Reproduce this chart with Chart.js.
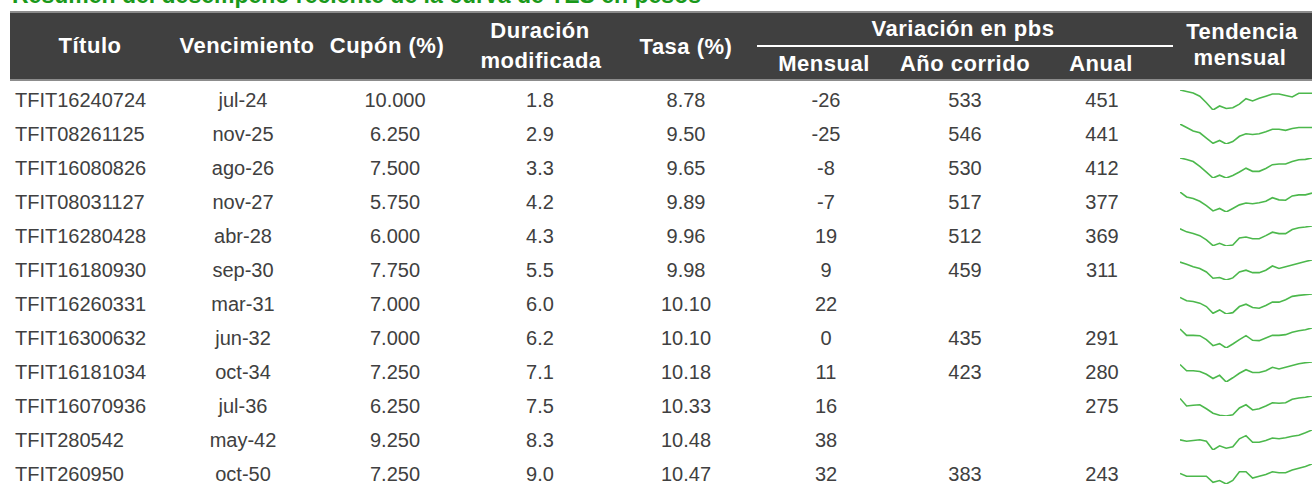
<!DOCTYPE html>
<html>
<head>
<meta charset="utf-8">
<script src="https://cdn.jsdelivr.net/npm/chart.js@4.4.1/dist/chart.umd.min.js"></script>
<style>
  body { margin: 0; width: 1312px; height: 487px; overflow: hidden; background: #fff; position: relative; font-family: "Liberation Sans", Arial, sans-serif; }
  .titulo { position: absolute; left: 12px; top: -18px; font-weight: bold; font-size: 23px; color: #1a991a; white-space: nowrap; }
  .head { position: absolute; left: 10px; top: 11px; width: 1302px; height: 66px; background: #404040; border-top: 2px solid #8c8c8c; border-bottom: 2px solid #8c8c8c; }
  .linea { position: absolute; left: 757px; top: 45px; width: 416px; height: 2px; background: #fff; }
  .h { position: absolute; color: #fff; font-weight: bold; font-size: 22px; transform: translate(-50%, -50%); white-space: nowrap; letter-spacing: 0.5px; }
  .c { position: absolute; color: #404040; font-size: 20px; transform: translate(-50%, -50%); white-space: nowrap; }
  .c.izq { transform: translate(0, -50%); }
  canvas.spark { position: absolute; left: 1180px; }
</style>
</head>
<body>
<div class="titulo">Resumen del desempeño reciente de la curva de TES en pesos</div>
<div class="head"></div>
<div class="linea"></div>
<div id="tabla"></div>
<script>
const titulos = ["TFIT16240724", "TFIT08261125", "TFIT16080826", "TFIT08031127", "TFIT16280428", "TFIT16180930",
  "TFIT16260331", "TFIT16300632", "TFIT16181034", "TFIT16070936", "TFIT280542", "TFIT260950"];
const vencimientos = ["jul-24", "nov-25", "ago-26", "nov-27", "abr-28", "sep-30", "mar-31", "jun-32", "oct-34", "jul-36", "may-42", "oct-50"];
const cupon = ["10.000", "6.250", "7.500", "5.750", "6.000", "7.750", "7.000", "7.000", "7.250", "6.250", "9.250", "7.250"];
const duracion = ["1.8", "2.9", "3.3", "4.2", "4.3", "5.5", "6.0", "6.2", "7.1", "7.5", "8.3", "9.0"];
const tasa = ["8.78", "9.50", "9.65", "9.89", "9.96", "9.98", "10.10", "10.10", "10.18", "10.33", "10.48", "10.47"];
const varMensual = [-26, -25, -8, -7, 19, 9, 22, 0, 11, 16, 38, 32];
const varAnoCorrido = [533, 546, 530, 517, 512, 459, null, 435, 423, null, null, 383];
const varAnual = [451, 441, 412, 377, 369, 311, null, 291, 280, 275, null, 243];

// puntos de la tendencia (nivel relativo de la tasa)
const dias = ["1", "2", "3", "4", "5", "6", "7", "8", "9", "10", "11", "12", "13", "14", "15", "16", "17", "18", "19", "20", "21"];
const tendencia = [
  [55, 51, 47, 38, 20, 0, 11, 4, 6, 16, 31, 25, 32, 38, 44, 44, 40, 36, 46, 46, 46],
  [57, 47, 37, 32, 17, 2, 10, 0, 7, 22, 29, 27, 29, 35, 42, 42, 39, 44, 47, 47, 47],
  [57, 53, 47, 33, 17, 0, 8, 0, 7, 17, 28, 19, 19, 27, 38, 40, 40, 47, 52, 53, 57],
  [56, 42, 38, 30, 18, 3, 10, 0, 10, 20, 25, 23, 26, 30, 40, 34, 33, 45, 48, 48, 53],
  [50, 41, 36, 30, 18, 1, 8, 0, 3, 23, 26, 21, 21, 30, 40, 36, 36, 48, 53, 55, 58],
  [51, 45, 38, 33, 23, 5, 7, 0, 6, 23, 28, 21, 21, 28, 40, 33, 38, 43, 48, 53, 57],
  [49, 39, 37, 32, 22, 2, 12, 0, 4, 22, 29, 19, 17, 25, 35, 35, 42, 52, 55, 57, 59],
  [57, 38, 38, 37, 25, 7, 13, 0, 12, 25, 37, 23, 22, 30, 38, 38, 40, 47, 52, 55, 60],
  [50, 32, 32, 30, 22, 10, 19, 0, 12, 25, 35, 27, 27, 32, 42, 37, 42, 47, 52, 55, 57],
  [44, 25, 27, 28, 18, 7, 2, 0, 3, 20, 28, 15, 18, 25, 33, 32, 33, 42, 45, 47, 50],
  [29, 25, 27, 29, 25, 0, 12, 5, 9, 32, 41, 22, 22, 27, 34, 32, 35, 39, 42, 49, 57],
  [30, 22, 22, 22, 22, 5, 10, 0, 10, 35, 35, 17, 22, 27, 35, 32, 32, 40, 45, 50, 57]
];

const tabla = document.getElementById("tabla");

function texto(cls, str, x, y) {
  const d = document.createElement("div");
  d.className = cls;
  d.textContent = str;
  d.style.left = x + "px";
  d.style.top = y + "px";
  tabla.appendChild(d);
}

// encabezados
texto("h", "Título", 90, 46);
texto("h", "Vencimiento", 247, 46);
texto("h", "Cupón (%)", 387, 46);
texto("h", "Duración", 540, 31);
texto("h", "modificada", 541, 61);
texto("h", "Tasa (%)", 686, 47);
texto("h", "Variación en pbs", 963, 29);
texto("h", "Mensual", 824, 64);
texto("h", "Año corrido", 965, 64);
texto("h", "Anual", 1101, 64);
texto("h", "Tendencia", 1242, 32);
texto("h", "mensual", 1240, 58);

titulos.forEach(function (t, i) {
  const y = 100 + 34 * i;
  texto("c izq", t, 15, y);
  texto("c", vencimientos[i], 243, y);
  texto("c", cupon[i], 395, y);
  texto("c", duracion[i], 540, y);
  texto("c", tasa[i], 686, y);
  texto("c", String(varMensual[i]), 826, y);
  if (varAnoCorrido[i] !== null) texto("c", String(varAnoCorrido[i]), 965, y);
  if (varAnual[i] !== null) texto("c", String(varAnual[i]), 1102, y);

  const serie = tendencia[i];
  const cv = document.createElement("canvas");
  cv.className = "spark";
  cv.width = 132;
  cv.height = 22;
  cv.style.top = (y - 11) + "px";
  document.body.appendChild(cv);

  new Chart(cv.getContext("2d"), {
    type: "line",
    data: {
      labels: dias,
      datasets: [
        {
          data: serie,
          borderColor: "#4cb84c",
          borderWidth: 1.6,
          pointRadius: 0,
          tension: 0,
          fill: false,
        },
      ],
    },
    options: {
      responsive: false,
      maintainAspectRatio: false,
      animation: false,
      events: [],
      layout: { padding: { top: 1, bottom: 1, left: 0, right: 0 } },
      plugins: { legend: { display: false }, tooltip: { enabled: false } },
      scales: {
        x: { display: false, offset: false },
        y: { display: false, bounds: "data", min: Math.min(...serie), max: Math.max(...serie) },
      },
    },
  });
});
</script>
</body>
</html>
